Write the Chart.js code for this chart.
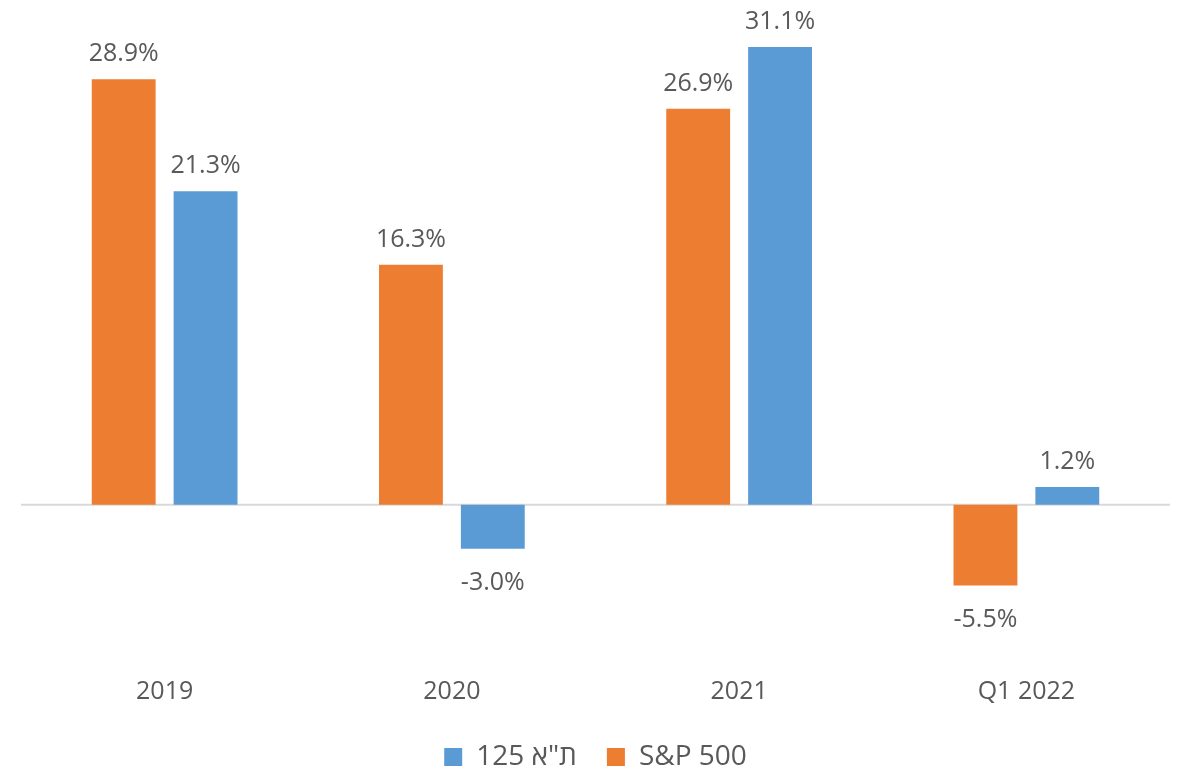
<!DOCTYPE html>
<html>
<head>
<meta charset="utf-8">
<script src="https://cdn.jsdelivr.net/npm/chart.js@4.4.1/dist/chart.umd.min.js"></script>
<style>
  html, body { margin: 0; padding: 0; background: #fff; }
  #wrap { width: 1181px; height: 768px; }
</style>
</head>
<body>
<div id="wrap"><canvas id="myChart" width="1181" height="768"></canvas></div>
<script>
var categories = ['2019', '2020', '2021', 'Q1 2022'];
var spValues = [28.9, 16.3, 26.9, -5.5];
var taValues = [21.3, -3.0, 31.1, 1.2];
var spLabel = 'S&P 500';
var taLabel = '125 ת"א';

var textColor = '#595959';
var fontFamily = '"Open Sans", "Noto Sans", sans-serif';

// value labels above / below each bar, plus the zero line
var barLabels = {
    id: 'barLabels',
    beforeDatasetsDraw: function(chart) {
        var ctx = chart.ctx;
        var area = chart.chartArea;
        var y0 = chart.scales.y.getPixelForValue(0);
        ctx.save();
        ctx.strokeStyle = '#d9d9d9';
        ctx.lineWidth = 2;
        ctx.beginPath();
        ctx.moveTo(area.left, y0);
        ctx.lineTo(area.right, y0);
        ctx.stroke();
        ctx.restore();
    },
    afterDatasetsDraw: function(chart) {
        var ctx = chart.ctx;
        ctx.save();
        ctx.fillStyle = textColor;
        ctx.font = '25px ' + fontFamily;
        ctx.textAlign = 'center';
        ctx.textBaseline = 'alphabetic';
        chart.data.datasets.forEach(function(ds, i) {
            var meta = chart.getDatasetMeta(i);
            meta.data.forEach(function(bar, j) {
                var v = ds.data[j];
                var txt = v.toFixed(1) + '%';
                if (v >= 0) {
                    ctx.fillText(txt, bar.x, bar.y - 18);
                } else {
                    ctx.fillText(txt, bar.x, bar.y + 41);
                }
            });
        });
        ctx.restore();
    }
};

var ctx = document.getElementById('myChart').getContext('2d');
var myChart = new Chart(ctx, {
    type: 'bar',
    data: {
        labels: categories,
        datasets: [{
            label: spLabel,
            data: spValues,
            backgroundColor: '#ED7D31',
            categoryPercentage: 0.57,
            barPercentage: 0.78
        }, {
            label: taLabel,
            data: taValues,
            backgroundColor: '#5B9BD5',
            categoryPercentage: 0.57,
            barPercentage: 0.78
        }]
    },
    options: {
        responsive: false,
        animation: false,
        layout: { padding: { left: 21, right: 11, top: 19, bottom: -13 } },
        scales: {
            x: {
                grid: { display: false },
                border: { display: false },
                ticks: { color: textColor, font: { family: fontFamily, size: 25 }, padding: 6 }
            },
            y: {
                display: false,
                min: -10.76,
                max: 33
            }
        },
        plugins: {
            legend: {
                position: 'bottom',
                reverse: true,
                labels: {
                    color: textColor,
                    font: { family: fontFamily, size: 28 },
                    boxWidth: 18,
                    boxHeight: 18,
                    padding: 30
                }
            },
            tooltip: { enabled: false }
        }
    },
    plugins: [barLabels]
});
</script>
</body>
</html>
